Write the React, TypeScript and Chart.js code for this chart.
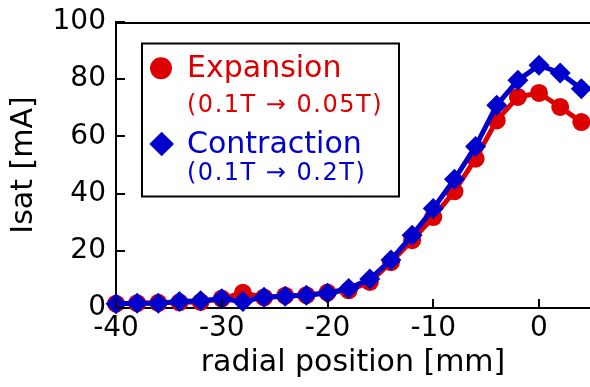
import React, { useEffect, useRef } from "react";
import { Chart, registerables } from "chart.js";

Chart.register(...registerables);

const positions = [-40, -38, -36, -34, -32, -30, -28, -26, -24, -22, -20, -18, -16, -14, -12, -10, -8, -6, -4, -2, 0, 2, 4];
const expansion = [1.5, 1.7, 1.8, 2.0, 2.1, 3.3, 5.3, 3.7, 4.3, 4.5, 5.4, 6.2, 9.1, 16.0, 23.7, 31.8, 40.8, 52.2, 65.6, 73.8, 75.2, 70.3, 65.0];
const contraction = [1.5, 1.7, 1.7, 2.3, 2.5, 3.2, 2.3, 3.8, 4.1, 4.5, 5.2, 6.8, 10.1, 16.8, 25.4, 34.8, 45.0, 56.5, 70.9, 79.6, 84.9, 82.2, 76.7];
const xTicks = [-40, -30, -20, -10, 0];
const yTicks = [0, 20, 40, 60, 80, 100];
const legendLabels = ["Expansion", "(0.1T \u2192 0.05T)", "Contraction", "(0.1T \u2192 0.2T)"];

const RED = "#dd0000";
const BLUE = "#0000cc";
const FONT = "'DejaVu Sans', sans-serif";

const decorPlugin = {
  id: "decor",
  afterDraw(chart: any) {
    const { ctx, chartArea, scales } = chart;
    const xs = scales.x;
    const ys = scales.y;
    ctx.save();
    ctx.strokeStyle = "#000";
    ctx.lineWidth = 2;
    // top border
    ctx.beginPath();
    ctx.moveTo(chartArea.left, chartArea.top + 1);
    ctx.lineTo(chartArea.right, chartArea.top + 1);
    ctx.stroke();
    // inward ticks
    ctx.beginPath();
    xTicks.forEach((v) => {
      const px = Math.round(xs.getPixelForValue(v));
      ctx.moveTo(px, chartArea.bottom);
      ctx.lineTo(px, chartArea.bottom - 9);
    });
    yTicks.forEach((v) => {
      const py = Math.round(ys.getPixelForValue(v));
      ctx.moveTo(chartArea.left, py);
      ctx.lineTo(chartArea.left + 9, py);
    });
    ctx.stroke();

    // legend box
    ctx.fillStyle = "#fff";
    ctx.fillRect(142, 43.5, 257, 153);
    ctx.strokeRect(142, 43.5, 257, 153);

    // markers
    ctx.fillStyle = RED;
    ctx.beginPath();
    ctx.arc(161, 68.3, 11, 0, Math.PI * 2);
    ctx.fill();
    ctx.fillStyle = BLUE;
    ctx.beginPath();
    const cx = 161.7, cy = 144, r = 12.3;
    ctx.moveTo(cx - r, cy);
    ctx.lineTo(cx, cy - r);
    ctx.lineTo(cx + r, cy);
    ctx.lineTo(cx, cy + r);
    ctx.closePath();
    ctx.fill();

    // texts
    ctx.textAlign = "left";
    ctx.textBaseline = "alphabetic";
    ctx.fillStyle = RED;
    ctx.font = `30px ${FONT}`;
    ctx.fillText(legendLabels[0], 187, 76.7);
    ctx.font = `24px ${FONT}`;
    (ctx as any).letterSpacing = "1.5px";
    ctx.fillText(legendLabels[1], 187, 111.7);
    (ctx as any).letterSpacing = "0px";
    ctx.fillStyle = BLUE;
    ctx.font = `30px ${FONT}`;
    ctx.fillText(legendLabels[2], 187, 153.3);
    ctx.font = `24px ${FONT}`;
    (ctx as any).letterSpacing = "1.5px";
    ctx.fillText(legendLabels[3], 187, 180);
    (ctx as any).letterSpacing = "0px";
    ctx.restore();
  },
};

export default function App() {
  const ref = useRef<HTMLCanvasElement>(null);
  useEffect(() => {
    if (!ref.current) return;
    const chart = new Chart(ref.current, {
      type: "line",
      data: {
        datasets: [
          {
            label: "Expansion (0.1T \u2192 0.05T)",
            data: positions.map((x, i) => ({ x, y: expansion[i] })),
            borderColor: RED,
            backgroundColor: RED,
            borderWidth: 5,
            pointRadius: 9,
            pointStyle: "circle",
            pointBorderWidth: 0,
            pointBackgroundColor: RED,
            tension: 0,
            clip: false as any,
            order: 2,
          },
          {
            label: "Contraction (0.1T \u2192 0.2T)",
            data: positions.map((x, i) => ({ x, y: contraction[i] })),
            borderColor: BLUE,
            backgroundColor: BLUE,
            borderWidth: 5,
            pointRadius: 10.5,
            pointStyle: "rectRot",
            pointBorderWidth: 0,
            pointBackgroundColor: BLUE,
            tension: 0,
            clip: false as any,
            order: 1,
          },
        ],
      },
      options: {
        animation: false,
        responsive: false,
        layout: { autoPadding: false, padding: { top: 22, right: 0, left: 0, bottom: 0 } },
        plugins: { legend: { display: false }, tooltip: { enabled: false } },
        scales: {
          x: {
            type: "linear",
            min: -40,
            max: 4.82,
            afterBuildTicks: (s: any) => {
              s.ticks = xTicks.map((v) => ({ value: v }));
            },
            afterFit: (s: any) => {
              s.height = 79;
              s.paddingLeft = 0;
              s.paddingRight = 0;
            },
            grid: { display: true, drawOnChartArea: false, drawTicks: false },
            border: { display: true, color: "#000", width: 2 },
            ticks: {
              color: "#000",
              padding: 4,
              maxRotation: 0,
              autoSkip: false,
              font: { family: FONT, size: 28 },
            },
            title: {
              display: true,
              text: "radial position [mm]",
              color: "#000",
              font: { family: FONT, size: 30 },
              padding: { top: 0, bottom: 6 },
            },
          },
          y: {
            type: "linear",
            min: 0,
            max: 100,
            afterBuildTicks: (s: any) => {
              s.ticks = yTicks.map((v) => ({ value: v }));
            },
            afterFit: (s: any) => {
              s.width = 116;
              s.paddingTop = 0;
              s.paddingBottom = 0;
            },
            grid: { display: true, drawOnChartArea: false, drawTicks: false },
            border: { display: true, color: "#000", width: 2 },
            ticks: {
              color: "#000",
              padding: 10,
              autoSkip: false,
              font: { family: FONT, size: 28 },
            },
            title: {
              display: true,
              text: "Isat [mA]",
              color: "#000",
              font: { family: FONT, size: 30 },
              padding: { top: 6.6, bottom: 0 },
            },
          },
        },
      },
      plugins: [decorPlugin],
    });
    return () => chart.destroy();
  }, []);
  return (
    <div style={{ position: "fixed", left: 0, top: 0, width: 590, height: 387, background: "#fff" }}>
      <canvas ref={ref} width={590} height={387} />
    </div>
  );
}
